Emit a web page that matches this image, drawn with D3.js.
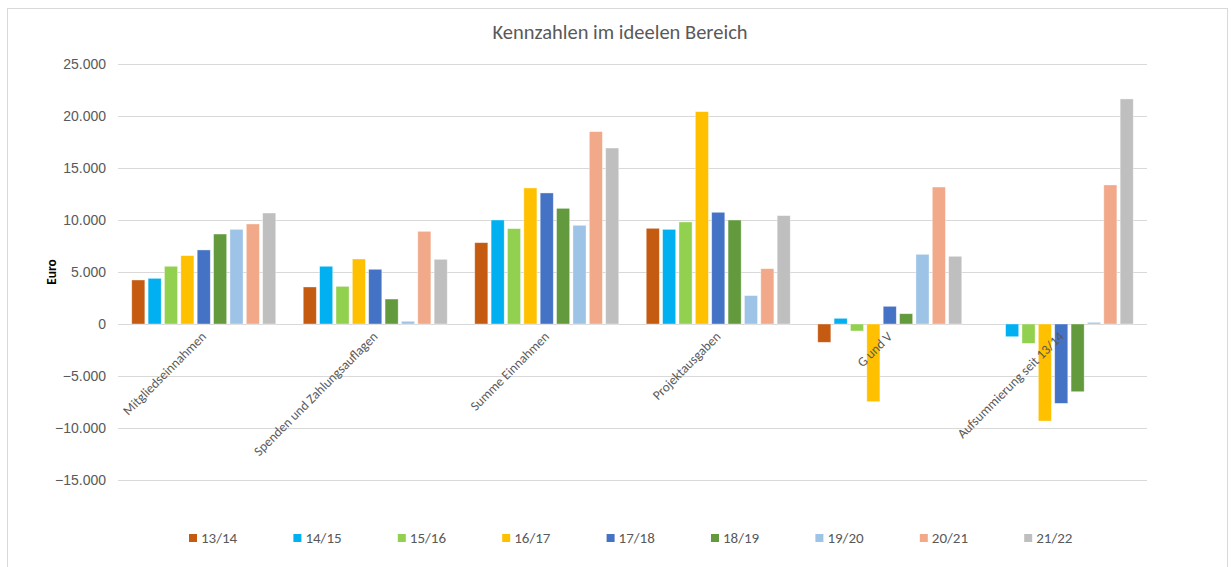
<!DOCTYPE html>
<html>
<head>
<meta charset="utf-8">
<script src="https://cdn.jsdelivr.net/npm/d3@7"></script>
<style>
  html, body { margin: 0; padding: 0; background: #fff; }
  svg { display: block; font-family: Carlito, Lato, "Liberation Sans", sans-serif; }
</style>
</head>
<body>
<svg id="chart"></svg>
<script>
const categories = ['Mitgliedseinnahmen', 'Spenden und Zahlungsauflagen', 'Summe Einnahmen', 'Projektausgaben', 'G und V', 'Aufsummierung seit 13/14'];
const seasons = ['13/14', '14/15', '15/16', '16/17', '17/18', '18/19', '19/20', '20/21', '21/22'];
const seasonColors = ['#C55A11', '#00B0F0', '#92D050', '#FFC000', '#4472C4', '#629A3D', '#9DC3E6', '#F1A98A', '#BFBFBF'];
// one row per season, one value per category
const values = {
  '13/14': [4230, 3560, 7820, 9200, -1760, 0],
  '14/15': [4390, 5550, 10000, 9100, 545, -1220],
  '15/16': [5550, 3620, 9170, 9810, -670, -1860],
  '16/17': [6570, 6250, 13080, 20420, -7470, -9330],
  '17/18': [7120, 5260, 12600, 10740, 1700, -7630],
  '18/19': [8650, 2400, 11120, 10000, 990, -6510],
  '19/20': [9100, 260, 9490, 2730, 6700, 160],
  '20/21': [9620, 8910, 18500, 5320, 13170, 13370],
  '21/22': [10670, 6220, 16920, 10420, 6510, 21640],
};
const yTicks = [-15000, -10000, -5000, 0, 5000, 10000, 15000, 20000, 25000];

const W = 1231, H = 567;
const svg = d3.select('#chart').attr('width', W).attr('height', H);
const margin = { left: 118, right: 84, top: 64, bottom: 0 };
const plotRight = W - margin.right;

svg.append('rect').attr('x', 7.5).attr('y', 8.5).attr('width', 1220).attr('height', 570)
  .attr('fill', '#fff').attr('stroke', '#D9D9D9').attr('stroke-width', 1);

const y = d3.scaleLinear([-15000, 25000], [480, 64]);
const x0 = d3.scaleBand(categories, [margin.left, plotRight]);
const x1 = d3.scaleBand(seasons, [0, x0.bandwidth()]).paddingInner(0.2).paddingOuter(0.84);
const fmt = d3.formatLocale({ decimal: ',', thousands: '.', grouping: [3] }).format(',.0f');

// gridlines
svg.append('g').selectAll('line').data(yTicks).join('line')
  .attr('x1', margin.left).attr('x2', plotRight)
  .attr('y1', (d) => Math.round(y(d)) + 0.5).attr('y2', (d) => Math.round(y(d)) + 0.5)
  .attr('stroke', '#D9D9D9').attr('stroke-width', 1);

// y axis labels
const yAxis = svg.append('g').attr('transform', `translate(${margin.left - 12},0)`)
  .call(d3.axisLeft(y).tickValues(yTicks).tickSize(0).tickPadding(0).tickFormat(fmt));
yAxis.select('.domain').remove();
yAxis.selectAll('text').attr('fill', '#595959').attr('font-size', 14).attr('font-family', null);

// bars
const rows = [];
seasons.forEach((s) => values[s].forEach((v, i) => rows.push({ season: s, cat: categories[i], value: v })));
svg.append('g').selectAll('rect').data(rows.filter((d) => d.value !== 0)).join('rect')
  .attr('x', (d) => x0(d.cat) + x1(d.season))
  .attr('y', (d) => y(Math.max(0, d.value)))
  .attr('width', x1.bandwidth())
  .attr('height', (d) => Math.abs(y(d.value) - y(0)))
  .attr('fill', (d) => seasonColors[seasons.indexOf(d.season)])
  .attr('stroke', '#fff').attr('stroke-opacity', 0.5).attr('stroke-width', 0.75);

// category labels, rotated
svg.append('g').selectAll('text').data(categories).join('text')
  .attr('transform', (c) => `translate(${x0(c) + x0.bandwidth() / 2},${y(0) + 10}) rotate(-45)`)
  .attr('text-anchor', 'end').attr('dy', '0.35em')
  .attr('font-size', 13.3).attr('fill', '#595959').text((c) => c);

// title
svg.append('text').attr('x', 620).attr('y', 39).attr('text-anchor', 'middle')
  .attr('font-size', 20.5).attr('fill', '#595959').text('Kennzahlen im ideelen Bereich');

// y axis title
svg.append('text').attr('transform', `translate(56,${y(5000)}) rotate(-90)`)
  .attr('text-anchor', 'middle').attr('font-size', 13.5).attr('font-weight', 'bold')
  .attr('fill', '#000').text('Euro');

// legend
const legend = svg.append('g').selectAll('g').data(seasons).join('g')
  .attr('transform', (s, i) => `translate(${189 + i * 104.4},534)`);
legend.append('rect').attr('width', 8).attr('height', 8).attr('fill', (s, i) => seasonColors[i]);
legend.append('text').attr('x', 12).attr('y', 9).attr('font-size', 15).attr('fill', '#595959').text((s) => s);
</script>
</body>
</html>
